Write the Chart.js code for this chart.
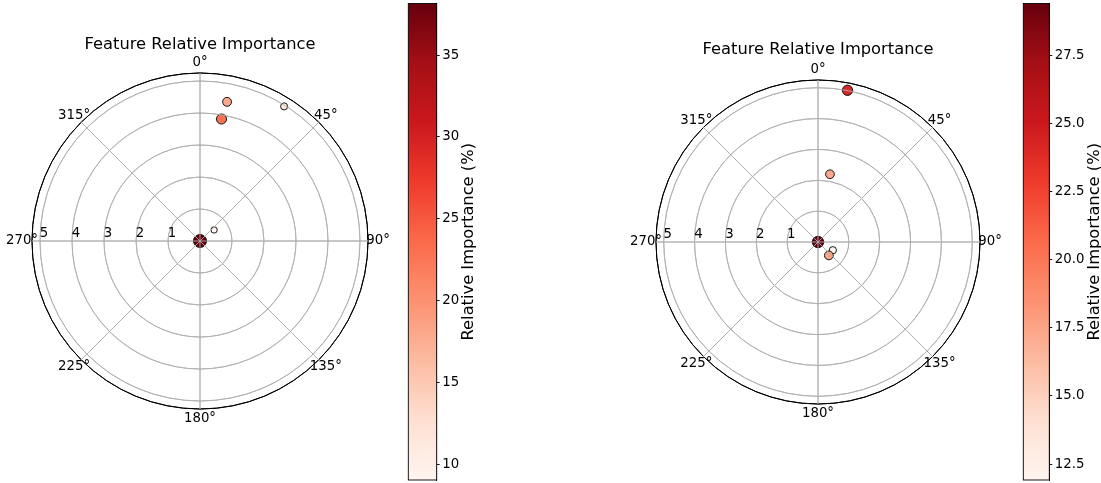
<!DOCTYPE html>
<html>
<head>
<meta charset="utf-8">
<script src="https://cdn.jsdelivr.net/npm/chart.js@4.4.0/dist/chart.umd.min.js"></script>
<style>
  html, body { margin: 0; padding: 0; background: #fff; }
  #fig { position: relative; width: 1101px; height: 483px; overflow: hidden; background: #fff; }
  #fig canvas { position: absolute; top: 0; }
</style>
</head>
<body>
<div id="fig">
  <canvas id="polarL" width="400" height="483" style="left:0px"></canvas>
  <canvas id="cbarL" width="100" height="483" style="left:400px"></canvas>
  <canvas id="polarR" width="420" height="483" style="left:600px"></canvas>
  <canvas id="cbarR" width="91" height="483" style="left:1010px"></canvas>
</div>
<script>
'use strict';

// ── DATA ──────────────────────────────────────────────────────────
const ANGLE_CATS  = Array.from({ length: 360 }, (_, i) => i);   // 1° angular categories
const THETA_TICKS = [0, 45, 90, 135, 180, 225, 270, 315];
const R_TICKS     = [1, 2, 3, 4, 5];
const R_MAX       = 5.25;
const TITLE       = 'Feature Relative Importance';
const CB_LABEL    = 'Relative Importance (%)';

// left panel
const THETA_L    = [0, 10, 11, 32, 52];
const R_L        = [0, 3.87, 4.43, 4.96, 0.56];
const IMP_L      = [38.15, 23.0, 18.0, 11.5, 9.04];
const CB_TICKS_L = [10, 15, 20, 25, 30, 35];

// right panel
const THETA_R    = [0, 11, 10, 141, 119];
const R_R        = [0, 5.01, 2.23, 0.56, 0.55];
const IMP_R      = [29.39, 24.0, 17.2, 17.5, 11.92];
const CB_TICKS_R = [12.5, 15, 17.5, 20, 22.5, 25, 27.5];

// ── STYLE ─────────────────────────────────────────────────────────
const FONT = "'DejaVu Sans', 'Liberation Sans', sans-serif";
const GRID = '#b0b0b0';
const REDS = ['#fff5f0','#fee0d2','#fcbba1','#fc9272','#fb6a4a','#ef3b2c','#cb181d','#a50f15','#67000d'];

Chart.defaults.font.family = FONT;

function hexRgb(h) {
  return [1, 3, 5].map(i => parseInt(h.slice(i, i + 2), 16));
}

function redsAt(t) {
  t = Math.max(0, Math.min(1, t));
  const pos = t * (REDS.length - 1);
  const i = Math.min(Math.floor(pos), REDS.length - 2);
  const f = pos - i;
  const a = hexRgb(REDS[i]), b = hexRgb(REDS[i + 1]);
  const c = a.map((v, k) => Math.round(v + (b[k] - v) * f));
  return `rgb(${c[0]},${c[1]},${c[2]})`;
}

// ── POLAR DECORATIONS ─────────────────────────────────────────────
const polarDeco = {
  id: 'polarDeco',
  afterDatasetsDraw(chart) {
    // matplotlib puts the grid above the markers
    chart.scales.r.drawGrid();
  },
  afterDraw(chart, args, opts) {
    const s = chart.scales.r;
    const ctx = chart.ctx;
    ctx.save();
    ctx.fillStyle = '#000';
    ctx.textAlign = 'center';
    ctx.textBaseline = 'middle';
    ctx.font = `13.3px ${FONT}`;
    THETA_TICKS.forEach(d => {
      const p = s.getPointPosition(d, s.drawingArea + 10);
      ctx.fillText(d + '°', p.x, p.y);
    });
    R_TICKS.forEach(v => {
      ctx.fillText(String(v), s.xCenter - s.getDistanceFromCenterForValue(v) + 4, s.yCenter - 7);
    });
    ctx.font = `16.3px ${FONT}`;
    ctx.fillText(opts.title, s.xCenter, opts.titleY);
    ctx.restore();
  }
};

function createPolar(canvasId, theta, r, imp, pad, titleY) {
  const lo = Math.min(...imp), hi = Math.max(...imp);
  const datasets = imp.map((v, i) => {
    const data = ANGLE_CATS.map(() => null);
    data[Math.round(theta[i]) % 360] = r[i];
    return {
      data,
      showLine: false,
      borderWidth: 0,
      fill: false,
      pointRadius: 1.05 * Math.sqrt(v),
      pointHoverRadius: 1.05 * Math.sqrt(v),
      pointBackgroundColor: redsAt((v - lo) / (hi - lo)),
      pointBorderColor: '#000',
      pointBorderWidth: 0.9
    };
  });

  return new Chart(document.getElementById(canvasId), {
    type: 'radar',
    data: { labels: ANGLE_CATS, datasets },
    options: {
      responsive: false,
      animation: false,
      events: [],
      layout: { padding: pad },
      plugins: {
        legend: { display: false },
        tooltip: { enabled: false },
        polarDeco: { title: TITLE, titleY }
      },
      scales: {
        r: {
          min: 0,
          max: R_MAX,
          startAngle: 0,
          afterBuildTicks: s => { s.ticks = [0, ...R_TICKS, R_MAX].map(v => ({ value: v })); },
          ticks: { display: false },
          pointLabels: { display: false },
          grid: {
            circular: true,
            color: c => (c.tick && c.tick.value === R_MAX ? '#000' : GRID),
            lineWidth: c => (c.tick && c.tick.value === R_MAX ? 1.0 : 0.9)
          },
          angleLines: {
            color: GRID,
            lineWidth: c => (THETA_TICKS.includes(c.index) ? 0.9 : 0)
          }
        }
      }
    },
    plugins: [polarDeco]
  });
}

// ── COLORBAR ──────────────────────────────────────────────────────
const cbarDeco = {
  id: 'cbarDeco',
  afterDraw(chart, args, opts) {
    const a = chart.chartArea;
    const ctx = chart.ctx;
    ctx.save();
    ctx.strokeStyle = '#000';
    ctx.lineWidth = 0.9;
    ctx.strokeRect(a.left, a.top, a.right - a.left, a.bottom - a.top);
    ctx.translate(opts.x, (a.top + a.bottom) / 2);
    ctx.rotate(-Math.PI / 2);
    ctx.fillStyle = '#000';
    ctx.font = `16.3px ${FONT}`;
    ctx.textAlign = 'center';
    ctx.textBaseline = 'middle';
    ctx.fillText(CB_LABEL, 0, 0);
    ctx.restore();
  }
};

function cbarGradient(chart) {
  const a = chart.chartArea;
  if (!a) return REDS[0];
  const g = chart.ctx.createLinearGradient(0, a.bottom, 0, a.top);
  REDS.forEach((c, i) => g.addColorStop(i / (REDS.length - 1), c));
  return g;
}

function createColorbar(canvasId, imp, ticks, fmt, padL, axisW, labelX) {
  const lo = Math.min(...imp), hi = Math.max(...imp);
  return new Chart(document.getElementById(canvasId), {
    type: 'bar',
    data: {
      labels: [''],
      datasets: [{
        data: [[lo, hi]],
        backgroundColor: c => cbarGradient(c.chart),
        borderWidth: 0,
        barPercentage: 1,
        categoryPercentage: 1
      }]
    },
    options: {
      responsive: false,
      animation: false,
      events: [],
      layout: { padding: { left: padL, right: 0, top: 3.5, bottom: 3 } },
      plugins: {
        legend: { display: false },
        tooltip: { enabled: false },
        cbarDeco: { x: labelX }
      },
      scales: {
        x: { display: false },
        y: {
          position: 'right',
          min: lo,
          max: hi,
          afterBuildTicks: s => { s.ticks = ticks.map(v => ({ value: v })); },
          afterFit: s => { s.width = axisW; s.paddingTop = 0; s.paddingBottom = 0; },
          grid: { drawOnChartArea: false, drawTicks: true, tickLength: 3, tickColor: '#000', tickWidth: 0.9 },
          border: { display: true, color: '#000', width: 0.9 },
          ticks: { color: '#000', font: { size: 13.3 }, padding: 2.5, callback: v => fmt(v) }
        }
      }
    },
    plugins: [cbarDeco]
  });
}

createPolar('polarL', THETA_L, R_L, IMP_L, { left: 32, right: 32, top: 73, bottom: 74 }, 45);
createColorbar('cbarL', IMP_L, CB_TICKS_L, v => String(v), 8.3, 63.3, 69);

createPolar('polarR', THETA_R, R_R, IMP_R, { left: 55.5, right: 39.5, top: 79.5, bottom: 78.5 }, 50);
createColorbar('cbarR', IMP_R, CB_TICKS_R, v => v.toFixed(1), 13.3, 51.7, 85);
</script>
</body>
</html>
